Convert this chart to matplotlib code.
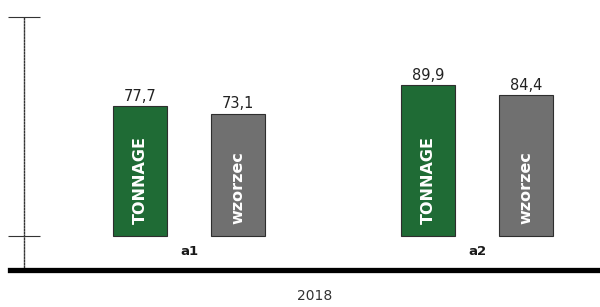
import matplotlib.pyplot as plt

################# DATOS ############################

GRUPOS = ['a1', 'a2']
TONNAGE = [77.7, 89.9]
WZORZEC = [73.1, 84.4]
SERIES = ['TONNAGE', 'wzorzec']
ROK = '2018'

COLOR_TONNAGE = '#1f6b35'
COLOR_WZORZEC = '#707070'
COLOR_BORDE = '#2e2e2e'

################# GRAFICO ############################

def etiqueta(valor):
    return f'{valor:.1f}'.replace('.', ',')


def generar_grafica():
    fig = plt.figure(figsize=(6, 3.07), dpi=100)
    ax = fig.add_axes([10 / 600, 37 / 307, 590 / 600, 253 / 307])

    ancho = 0.1875
    desplaz = 0.17
    xs = list(range(len(GRUPOS)))

    for serie, valores, color, signo in [(SERIES[0], TONNAGE, COLOR_TONNAGE, -1),
                                         (SERIES[1], WZORZEC, COLOR_WZORZEC, 1)]:
        pos = [x + signo * desplaz for x in xs]
        ax.bar(pos, valores, width=ancho, color=color, edgecolor=COLOR_BORDE, linewidth=0.8)
        for p, v in zip(pos, valores):
            ax.text(p, v + 1.2, etiqueta(v), ha='center', va='bottom', fontsize=10.5, color='#222222')
            ax.text(p, 7, serie, rotation=90, ha='center', va='bottom', fontsize=11.5,
                    fontweight='bold', color='white')

    for x, g in zip(xs, GRUPOS):
        ax.text(x, -9, g, ha='center', va='center', fontsize=9.5, fontweight='bold', color='#1a1a1a')

    ax.set_xlim(-0.6215, 1.427)
    ax.set_ylim(-20.3, 130.7)

    # eje vertical punteado con marcas largas
    ax.spines['left'].set_position(('data', -0.573))
    ax.spines['left'].set_linestyle((0, (1, 1.2)))
    ax.spines['left'].set_color('#333333')
    ax.spines['left'].set_linewidth(1.0)
    ax.spines['top'].set_visible(False)
    ax.spines['right'].set_visible(False)
    ax.spines['bottom'].set_linewidth(3.8)
    ax.spines['bottom'].set_color('black')

    ax.set_yticks([0, 130.7])
    ax.set_yticklabels([])
    ax.tick_params(axis='y', direction='inout', length=23, width=0.8, color='#333333')
    ax.set_xticks([])

    fig.text(315 / 600, 11 / 307, ROK, ha='center', va='center', fontsize=10, color='#333333')

    fig.savefig('out.png', dpi=100)


if __name__ == '__main__':
    generar_grafica()
